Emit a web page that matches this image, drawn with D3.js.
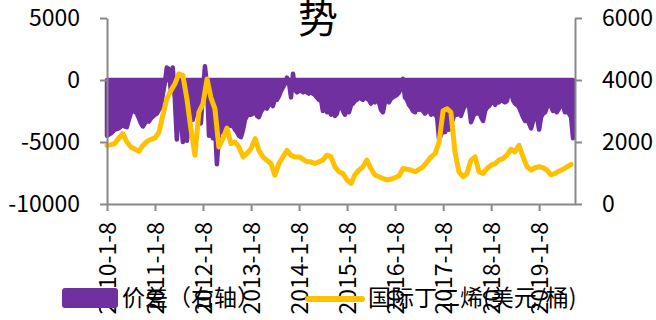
<!DOCTYPE html>
<html>
<head>
<meta charset="utf-8">
<script src="https://cdn.jsdelivr.net/npm/d3@7"></script>
<style>
  body { margin: 0; background: #fff; }
  svg { display: block; font-family: "Noto Sans CJK SC", "Liberation Sans", sans-serif; }
</style>
</head>
<body>
<div id="chart"></div>
<script>
"use strict";

// x-axis tick labels (category dates)
var tickLabels = ["2010-1-8", "2011-1-8", "2012-1-8", "2013-1-8", "2014-1-8",
                  "2015-1-8", "2016-1-8", "2017-1-8", "2018-1-8", "2019-1-8"];
var leftTicks = [5000, 0, -5000, -10000];
var leftTickLabels = ["5000", "0", "-5000", "-10000"];
var rightTicks = [6000, 4000, 2000, 0];
var rightTickLabels = ["6000", "4000", "2000", "0"];

// 价差, two readings per month (8th and 23rd)
var spread2010 = [-4500,-4400,-4300,-4150,-4000,-3950,-3900,-3750,-3600,-3750,-3800,-3200,
                  -2700,-2400,-2550,-2700,-3100,-3500,-3750,-3500,-3250,-3350,-3100,-2950];
var spread2011 = [-2800,-2700,-2400,-2150,-1200,-300,1000,900,-800,1000,-1500,-4800,
                  -2000,-3000,-5000,-2500,-4900,-3500,-3000,-3200,-2500,-2000,-3000,-3500];
var spread2012 = [-1000,1100,-500,-4500,-3000,-4700,-3500,-6800,-4500,-3800,-4200,-3500,
                  -3800,-3600,-3700,-3700,-4000,-4200,-4500,-4600,-4000,-3200,-2900,-2800];
var spread2013 = [-2800,-2700,-2400,-2900,-3000,-2600,-2300,-2200,-2300,-2000,-1900,-2100,
                  -1500,-1600,-1300,-900,-600,-300,200,-200,-1400,500,-800,-1000];
var spread2014 = [-900,-850,-1000,-900,-1000,-1100,-1000,-1100,-1200,-1400,-1600,-1500,
                  -2500,-2200,-2600,-2400,-2800,-2500,-2900,-2700,-2000,-2100,-2500,-2800];
var spread2015 = [-2400,-2600,-2000,-1900,-1700,-1600,-1400,-1500,-1600,-1400,-1500,-1600,
                  -1900,-1700,-1800,-1600,-1800,-2400,-2600,-1800,-1600,-1800,-1500,-1400];
var spread2016 = [-1300,-1200,-1000,-600,100,-1400,-1600,-2000,-2200,-2500,-2600,-2200,
                  -2400,-2300,-2500,-2700,-2500,-2400,-2800,-2600,-2800,-3000,-4800,-4400];
var spread2017 = [-4000,-4200,-3800,-4000,-3000,-3200,-2500,-2800,-2600,-2900,-2400,-2100,
                  -1900,-2000,-3400,-3000,-2600,-2700,-2300,-3000,-3300,-2500,-2200,-2100];
var spread2018 = [-1800,-1800,-2000,-1700,-1800,-1600,-1700,-1800,-1700,-1000,-900,-1600,
                  -1900,-2000,-2200,-2600,-3000,-3300,-3100,-3500,-3900,-3300,-2800,-3000];
var spread2019 = [-4000,-3000,-2700,-2600,-2200,-2000,-2100,-2500,-2400,-2600,-2300,-1800,
                  -2000,-2600,-2500,-2700,-3000,-4700];

// 国际丁二烯, one reading per month
var price2010 = [1890,1915,1950,2130,2270,2000,1840,1765,1700,1890,2020,2085];
var price2011 = [2130,2320,2850,3390,3650,3870,4200,4150,3390,2430,1570,2960];
var price2012 = [3230,4030,3440,3070,1840,2110,2450,1950,2000,1840,1520,1630];
var price2013 = [1790,2110,1730,1520,1410,1310,930,1310,1520,1730,1570,1520];
var price2014 = [1520,1445,1360,1360,1305,1360,1415,1575,1520,1200,1040,985];
var price2015 = [775,665,935,1095,1200,1415,1145,935,880,825,775,805];
var price2016 = [850,910,1145,1120,1095,1040,1120,1200,1360,1520,1625,2000];
var price2017 = [3010,3070,2960,1680,1040,880,985,1415,1520,1040,985,1145];
var price2018 = [1255,1305,1415,1465,1575,1765,1680,1895,1520,1200,1095,1170];
var price2019 = [1200,1170,1095,935,985,1060,1120,1200,1275];

var spreadValues = [].concat(spread2010, spread2011, spread2012, spread2013, spread2014,
                             spread2015, spread2016, spread2017, spread2018, spread2019);
var priceValues = [].concat(price2010, price2011, price2012, price2013, price2014,
                            price2015, price2016, price2017, price2018, price2019);

var spreadData = spreadValues.map(function(v, i) {
  return {date: new Date(2010, Math.floor(i / 2), i % 2 ? 23 : 8), value: v};
});
var priceData = priceValues.map(function(v, i) {
  return {date: new Date(2010, i, 8), value: v};
});

var width = 656, height = 320;
var purple = "#7030a0", yellow = "#ffc000", axisColor = "#898989";

var svg = d3.select("#chart").append("svg")
  .attr("width", width)
  .attr("height", height);

var x = d3.scaleTime()
  .domain([new Date(2010, 0, 8), new Date(2019, 9, 8)])
  .range([107, 575]);
var yLeft = d3.scaleLinear().domain([-10000, 5000]).range([204, 18]);
var yRight = d3.scaleLinear().domain([0, 6000]).range([204, 18]);

// title fragment (top is cut off in the source image)
svg.append("text")
  .attr("x", 318)
  .attr("y", 33)
  .attr("text-anchor", "middle")
  .style("font-size", "40px")
  .text("势");

// purple spread area
var area = d3.area()
  .x(function(d) { return x(d.date); })
  .y0(yLeft(0))
  .y1(function(d) { return yLeft(d.value); });
svg.append("path")
  .datum(spreadData)
  .attr("d", area)
  .attr("fill", purple)
  .attr("stroke", purple)
  .attr("stroke-width", 4.5)
  .attr("stroke-linejoin", "round");

// yellow price line
var line = d3.line()
  .x(function(d) { return x(d.date); })
  .y(function(d) { return yRight(d.value); });
svg.append("path")
  .datum(priceData)
  .attr("d", line)
  .attr("fill", "none")
  .attr("stroke", yellow)
  .attr("stroke-width", 5)
  .attr("stroke-linejoin", "round")
  .attr("stroke-linecap", "round");

function styleAxis(g) {
  g.select(".domain").attr("stroke", axisColor).attr("stroke-width", 2);
  g.selectAll(".tick line").attr("stroke", axisColor).attr("stroke-width", 2);
  g.selectAll(".tick text").attr("fill", "#000").style("font-size", "23px")
    .style("font-family", "\"Noto Sans CJK SC\", sans-serif");
}

// left axis
svg.append("g")
  .attr("transform", "translate(107,0)")
  .call(d3.axisLeft(yLeft).tickValues(leftTicks).tickSize(7).tickSizeOuter(0).tickPadding(20)
    .tickFormat(function(d, i) { return leftTickLabels[i]; }))
  .call(styleAxis);

// right axis
svg.append("g")
  .attr("transform", "translate(575,0)")
  .call(d3.axisRight(yRight).tickValues(rightTicks).tickSize(7).tickSizeOuter(0).tickPadding(20)
    .tickFormat(function(d, i) { return rightTickLabels[i]; }))
  .call(styleAxis);

// bottom axis
var tickDates = tickLabels.map(function(s) {
  var p = s.split("-");
  return new Date(+p[0], +p[1] - 1, +p[2]);
});
var xAxis = svg.append("g")
  .attr("transform", "translate(0,204)")
  .call(d3.axisBottom(x).tickValues(tickDates).tickSize(7).tickSizeOuter(0)
    .tickFormat(function(d, i) { return tickLabels[i]; }))
  .call(styleAxis);
xAxis.selectAll(".tick text")
  .attr("transform", "rotate(-90)")
  .attr("text-anchor", "end")
  .attr("x", -18)
  .attr("y", 0)
  .attr("dy", "0.35em");

// legend
var legend = svg.append("g").style("font-size", "23px");
legend.append("rect")
  .attr("x", 62).attr("y", 288)
  .attr("width", 56).attr("height", 20)
  .attr("rx", 3)
  .attr("fill", purple);
legend.append("text")
  .attr("x", 122).attr("y", 298).attr("dy", "0.35em")
  .text("价差（右轴）");
legend.append("line")
  .attr("x1", 308).attr("x2", 362)
  .attr("y1", 299).attr("y2", 299)
  .attr("stroke", yellow)
  .attr("stroke-width", 6)
  .attr("stroke-linecap", "round");
legend.append("text")
  .attr("x", 368).attr("y", 298).attr("dy", "0.35em")
  .text("国际丁二烯(美元/桶)");
</script>
</body>
</html>
